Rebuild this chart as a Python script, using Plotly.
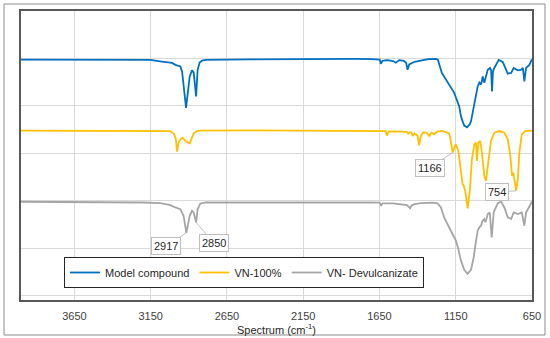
import plotly.graph_objects as go

# ---- data ----
model_wn = [4000, 3600, 3300, 3152, 3076, 3010, 2988, 2955, 2944, 2918, 2894, 2879, 2868, 2852, 2842, 2829, 2813, 2791,
            2500, 2200, 2000, 1800, 1700, 1648, 1641, 1630, 1600, 1560, 1543, 1520, 1490, 1475, 1466, 1455, 1420, 1379,
            1330, 1280, 1267, 1241, 1203, 1160, 1127, 1116, 1105, 1094, 1076, 1059, 1050, 1039, 1028, 1006, 995, 984,
            973, 963, 940, 925, 918, 912, 906, 897, 868, 842, 809, 787, 770, 743, 722, 710, 700, 689, 667, 650]
model_val = [99.5, 99.6, 99.6, 99.4, 98.7, 98.1, 97.3, 96.6, 94.5, 79.2, 92.4, 95.0, 94.1, 84.0, 95.2, 98.3, 99.1, 99.4,
             99.6, 99.8, 99.7, 99.8, 99.7, 99.5, 97.8, 99.0, 99.3, 98.9, 98.2, 99.3, 99.0, 98.2, 95.2, 97.5, 98.6, 99.1,
             99.7, 99.8, 99.5, 93.9, 89.7, 85.5, 79.8, 75.7, 73.5, 71.7, 71.0, 72.2, 73.5, 77.1, 81.3, 88.2, 89.9, 89.0,
             92.4, 89.7, 95.2, 96.0, 95.0, 86.1, 94.5, 96.0, 99.4, 98.5, 93.6, 93.9, 96.0, 95.0, 95.2, 96.0, 90.3, 96.0, 97.3, 99.7]

vn100_wn = [4000, 3500, 3100, 3021, 2995, 2985, 2977, 2967, 2955, 2940, 2927, 2911, 2894, 2879, 2868, 2846, 2824,
            2500, 2200, 1900, 1700, 1610, 1602, 1587, 1500, 1470, 1462, 1450, 1440, 1433, 1420, 1400, 1390, 1379,
            1363, 1340, 1324, 1308, 1291, 1275, 1240, 1200, 1193, 1182, 1170, 1160, 1149, 1133, 1120, 1105, 1098,
            1088, 1072, 1057, 1044, 1028, 1017, 1011, 1002, 989, 978, 963, 952, 936, 919, 897, 864, 831, 809, 792,
            781, 772, 766, 754, 743, 733, 717, 695, 656, 650]
vn100_val = [69.6, 69.5, 69.4, 69.4, 68.0, 66.0, 60.7, 64.5, 65.9, 66.6, 65.6, 64.7, 64.2, 66.6, 68.4, 69.4, 69.6,
             69.7, 69.6, 69.4, 69.5, 69.4, 67.5, 69.3, 69.2, 69.0, 68.3, 68.9, 68.8, 67.3, 68.4, 67.5, 63.4, 67.3,
             68.9, 68.7, 67.3, 68.7, 68.0, 69.1, 69.5, 68.8, 68.4, 64.9, 60.3, 62.4, 63.8, 61.0, 53.3, 47.0, 46.5,
             44.2, 36.8, 44.9, 57.5, 63.8, 64.5, 56.8, 64.5, 65.2, 60.3, 50.5, 48.4, 56.1, 65.2, 68.7, 69.4, 68.7, 65.9, 58.9,
             50.5, 51.9, 48.4, 44.2, 49.1, 60.3, 68.0, 69.4, 69.6, 69.6]

devul_wn = [4000, 3500, 3200, 3087, 3021, 2988, 2955, 2934, 2916, 2894, 2879, 2868, 2852, 2842, 2824, 2791,
            2500, 2200, 1900, 1710, 1648, 1641, 1630, 1560, 1500, 1470, 1449, 1440, 1420, 1380, 1300, 1269, 1247,
            1226, 1182, 1149, 1133, 1116, 1094, 1072, 1050, 1032, 1017, 1006, 995, 984, 975, 963, 955, 940, 927,
            914, 901, 875, 853, 831, 809, 787, 770, 743, 717, 700, 689, 667, 650]
devul_val = [39.6, 39.5, 39.3, 39.0, 38.2, 37.2, 36.5, 33.7, 26.5, 33.7, 35.8, 35.1, 30.9, 36.5, 38.9, 39.3,
             39.4, 39.4, 39.3, 39.3, 39.2, 37.9, 38.9, 38.9, 38.6, 38.2, 36.9, 38.0, 38.6, 39.0, 39.2, 38.9, 37.2,
             33.0, 27.4, 23.2, 19.7, 14.8, 10.9, 9.2, 10.9, 16.2, 23.2, 27.4, 28.8, 29.5, 31.5, 32.3, 31.0, 34.4, 35.1,
             24.6, 35.1, 38.9, 39.7, 37.2, 33.0, 32.3, 35.1, 34.4, 35.1, 29.5, 35.1, 37.9, 39.7]

series_names = ["Model compound", "VN-100%", "VN- Devulcanizate"]
x_ticks = [3650, 3150, 2650, 2150, 1650, 1150, 650]

peak_labels = ["1166", "754", "2917", "2850"]
peak_wn = [1170, 754, 2916, 2852]
peak_val = [60.3, 44.2, 26.5, 30.9]

colors = ["#0070C0", "#FFC000", "#A5A5A5"]

fig = go.Figure()
for wn, val, name, c in zip([model_wn, vn100_wn, devul_wn], [model_val, vn100_val, devul_val], series_names, colors):
    fig.add_trace(go.Scatter(x=wn, y=val, mode="lines", name=name,
                             line=dict(color=c, width=1.8)))

offsets = [(-23, 15), (-19, 1), (-20, 13), (18, 21)]
for lab, xw, yv, (ax, ay) in zip(peak_labels, peak_wn, peak_val, offsets):
    fig.add_annotation(x=xw, y=yv, text=lab, showarrow=True, ax=ax, ay=ay,
                       arrowhead=0, arrowwidth=1, arrowcolor="#BFBFBF",
                       bgcolor="white", bordercolor="#BFBFBF", borderwidth=1, borderpad=2,
                       font=dict(family="Liberation Sans, Arial", size=11, color="#262626"))

L, R, T, B = 21, 18, 11, 38
W, H = 550, 338
pw, ph = W - L - R, H - T - B

def px_to_paper(px, py):
    return (px - L) / pw, (H - B - py) / ph

x0, y1 = px_to_paper(4, 4)
x1, y0 = px_to_paper(545, 335)
fig.add_shape(type="rect", xref="paper", yref="paper", x0=x0, x1=x1, y0=y0, y1=y1,
              line=dict(color="#8C8C8C", width=1), layer="below")

lx, ly = px_to_paper(64, 257)

fig.update_layout(
    width=W, height=H,
    margin=dict(l=L, r=R, t=T, b=B),
    paper_bgcolor="white", plot_bgcolor="white",
    font=dict(family="Liberation Sans, Arial", size=11, color="#404040"),
    showlegend=True,
    legend=dict(orientation="h", x=lx, y=ly, xanchor="left", yanchor="top",
                bordercolor="#262626", borderwidth=1, bgcolor="white",
                font=dict(size=11, color="#262626")),
    xaxis=dict(range=[4000, 650], tickvals=x_ticks, ticks="outside", ticklen=5, tickcolor="rgba(0,0,0,0)",
               automargin=False, showgrid=True, gridcolor="#D9D9D9", gridwidth=1,
               showline=True, linecolor="#595959", linewidth=1.5, mirror=True, zeroline=False,
               title=dict(text="Spectrum (cm<sup>-1</sup>)", standoff=3, font=dict(size=11, color="#262626")),
               tickfont=dict(size=11, color="#404040")),
    yaxis=dict(range=[-1.8, 120], tick0=0, dtick=20, showticklabels=False, ticks="", showgrid=True, gridcolor="#D9D9D9",
               gridwidth=1, showline=True, linecolor="#595959", linewidth=1.5, mirror=True, zeroline=False,
               automargin=False),
)

fig.write_html("out.html", config={"displayModeBar": False},
               post_script="document.body.style.margin='0';document.body.style.padding='0';")
